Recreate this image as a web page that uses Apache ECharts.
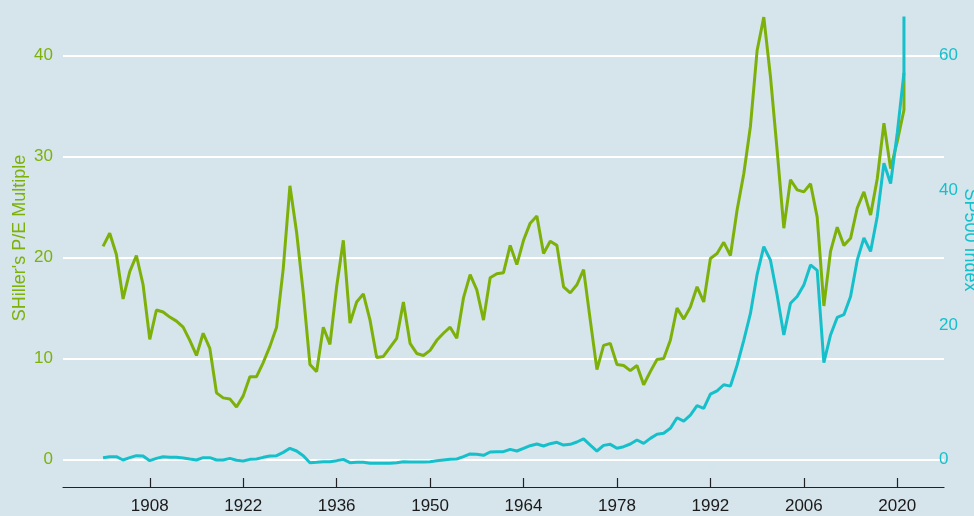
<!DOCTYPE html>
<html>
<head>
<meta charset="utf-8">
<script src="https://cdn.jsdelivr.net/npm/echarts@6/dist/echarts.min.js"></script>
<style>
  html, body { margin: 0; padding: 0; background: #d6e4eb; }
  #chart { width: 974px; height: 516px; }
</style>
</head>
<body>
<div id="chart"></div>
<script>
// years (the last year appears twice: yearly value and latest reading)
const years = [
  1901, 1902, 1903, 1904, 1905, 1906, 1907, 1908, 1909, 1910,
  1911, 1912, 1913, 1914, 1915, 1916, 1917, 1918, 1919, 1920,
  1921, 1922, 1923, 1924, 1925, 1926, 1927, 1928, 1929, 1930,
  1931, 1932, 1933, 1934, 1935, 1936, 1937, 1938, 1939, 1940,
  1941, 1942, 1943, 1944, 1945, 1946, 1947, 1948, 1949, 1950,
  1951, 1952, 1953, 1954, 1955, 1956, 1957, 1958, 1959, 1960,
  1961, 1962, 1963, 1964, 1965, 1966, 1967, 1968, 1969, 1970,
  1971, 1972, 1973, 1974, 1975, 1976, 1977, 1978, 1979, 1980,
  1981, 1982, 1983, 1984, 1985, 1986, 1987, 1988, 1989, 1990,
  1991, 1992, 1993, 1994, 1995, 1996, 1997, 1998, 1999, 2000,
  2001, 2002, 2003, 2004, 2005, 2006, 2007, 2008, 2009, 2010,
  2011, 2012, 2013, 2014, 2015, 2016, 2017, 2018, 2019, 2020,
  2021, 2021
]

// Shiller P/E multiple (left axis)
const peMultiple = [
  21.1, 22.4, 20.3, 15.9, 18.6, 20.2, 17.3, 11.9, 14.8, 14.6,
  14.1, 13.7, 13.1, 11.8, 10.3, 12.5, 11.0, 6.6, 6.1, 6.0,
  5.2, 6.3, 8.2, 8.2, 9.6, 11.2, 13.1, 18.9, 27.1, 22.5,
  16.5, 9.4, 8.7, 13.1, 11.4, 17.1, 21.7, 13.5, 15.6, 16.4,
  13.8, 10.1, 10.2, 11.1, 12.0, 15.6, 11.5, 10.5, 10.3, 10.8,
  11.8, 12.5, 13.1, 12.0, 16.0, 18.3, 16.8, 13.8, 18.0, 18.4,
  18.5, 21.2, 19.3, 21.7, 23.4, 24.1, 20.4, 21.6, 21.2, 17.1,
  16.5, 17.3, 18.8, 13.8, 8.9, 11.3, 11.5, 9.4, 9.3, 8.8,
  9.3, 7.4, 8.7, 9.9, 10.0, 11.8, 15.0, 13.9, 15.1, 17.1,
  15.6, 19.9, 20.4, 21.5, 20.2, 24.7, 28.3, 33.0, 40.5, 43.8,
  37.9, 30.6, 22.9, 27.7, 26.7, 26.5, 27.3, 24.0, 15.2, 20.6,
  23.0, 21.2, 21.9, 24.9, 26.5, 24.2, 27.8, 33.3, 28.8, 31.5,
  34.6, 38.3
]

// SP500 index (right axis)
const sp500 = [
  0.27, 0.42, 0.42, -0.07, 0.27, 0.57, 0.52, -0.17, 0.17, 0.42,
  0.32, 0.32, 0.22, 0.07, -0.07, 0.27, 0.27, -0.07, -0.07, 0.17,
  -0.12, -0.22, 0.02, 0.07, 0.32, 0.52, 0.57, 1.06, 1.66, 1.26,
  0.57, -0.47, -0.42, -0.32, -0.32, -0.17, 0.02, -0.47, -0.42, -0.42,
  -0.57, -0.57, -0.57, -0.57, -0.47, -0.32, -0.37, -0.37, -0.37, -0.32,
  -0.17, -0.07, 0.02, 0.07, 0.42, 0.82, 0.77, 0.62, 1.11, 1.15,
  1.16, 1.5, 1.26, 1.66, 2.05, 2.3, 2.0, 2.35, 2.55, 2.15,
  2.25, 2.6, 3.05, 2.15, 1.26, 2.1, 2.25, 1.66, 1.9, 2.3,
  2.9, 2.4, 3.14, 3.74, 3.89, 4.63, 6.2, 5.7, 6.6, 8.0,
  7.6, 9.7, 10.2, 11.1, 10.9, 14.0, 17.7, 21.7, 27.5, 31.6,
  29.6, 24.4, 18.5, 23.2, 24.2, 25.9, 28.9, 28.1, 14.4, 18.5,
  21.1, 21.5, 24.2, 29.6, 32.9, 30.9, 36.1, 44.0, 41.0, 48.5,
  57.4, 65.8
]

const yearTicks = [1908, 1922, 1936, 1950, 1964, 1978, 1992, 2006, 2020]
const peTicks = [0, 10, 20, 30, 40]
const spTicks = [0, 20, 40, 60]

const green = '#7db10a'
const teal = '#16c0cb'

const peData = years.map((y, i) => [y, peMultiple[i]])
const spData = years.map((y, i) => [y, sp500[i]])

const chart = echarts.init(document.getElementById('chart'))

const option = {
  animation: false,
  backgroundColor: '#d6e4eb',
  textStyle: { fontFamily: 'Liberation Sans, Arial, sans-serif' },
  grid: {
    left: 63,
    right: 30,
    top: 55.5,
    bottom: 56.5
  },
  xAxis: {
    type: 'value',
    min: 1895,
    max: 2027,
    offset: 27.5,
    axisLine: { show: true, onZero: false, lineStyle: { color: '#222', width: 1.2 } },
    axisTick: {
      show: true,
      inside: true,
      length: 9,
      customValues: yearTicks,
      lineStyle: { color: '#222', width: 1.2 }
    },
    axisLabel: {
      customValues: yearTicks,
      formatter: (v) => String(v),
      color: '#1a1a1a',
      fontSize: 17,
      margin: 11
    },
    splitLine: { show: false }
  },
  yAxis: [
    {
      type: 'value',
      min: peTicks[0],
      max: peTicks[peTicks.length - 1],
      interval: 10,
      axisLine: { show: false },
      axisTick: { show: false },
      axisLabel: { color: green, fontSize: 17, margin: 10 },
      splitLine: { show: true, lineStyle: { color: '#ffffff', width: 2 } }
    },
    {
      type: 'value',
      position: 'right',
      min: spTicks[0],
      max: spTicks[spTicks.length - 1],
      interval: 20,
      axisLine: { show: false },
      axisTick: { show: false },
      axisLabel: { color: teal, fontSize: 17, margin: -5 },
      splitLine: { show: false }
    }
  ],
  graphic: [
    {
      type: 'text',
      x: 20,
      y: 238,
      rotation: Math.PI / 2,
      style: {
        text: "SHiller's P/E Multiple",
        fill: green,
        font: '18px "Liberation Sans", Arial, sans-serif',
        textAlign: 'center',
        textVerticalAlign: 'middle'
      }
    },
    {
      type: 'text',
      x: 970,
      y: 240,
      rotation: -Math.PI / 2,
      style: {
        text: 'SP500 Index',
        fill: teal,
        font: '18px "Liberation Sans", Arial, sans-serif',
        textAlign: 'center',
        textVerticalAlign: 'middle'
      }
    }
  ],
  series: [
    {
      name: "SHiller's P/E Multiple",
      type: 'line',
      yAxisIndex: 0,
      data: peData,
      showSymbol: false,
      clip: false,
      lineStyle: { color: green, width: 3 },
      itemStyle: { color: green },
      z: 3
    },
    {
      name: 'SP500 Index',
      type: 'line',
      yAxisIndex: 1,
      data: spData,
      showSymbol: false,
      clip: false,
      lineStyle: { color: teal, width: 3 },
      itemStyle: { color: teal },
      z: 4
    }
  ]
}

chart.setOption(option)
window.onresize = () => {
  chart.resize()
}
</script>
</body>
</html>
